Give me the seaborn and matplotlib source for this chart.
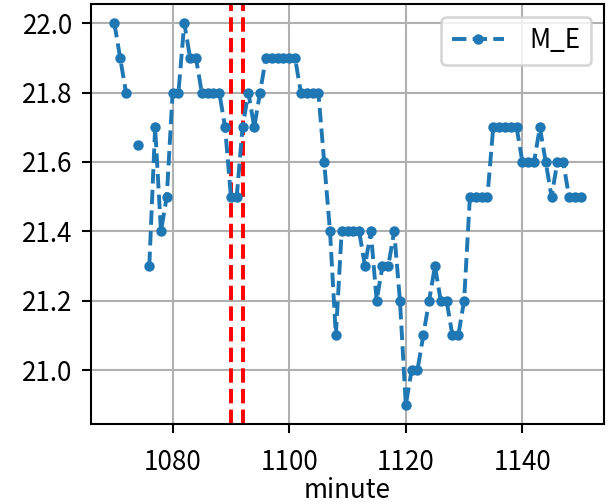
import numpy as np
import pandas as pd
import matplotlib
matplotlib.use("Agg")
import matplotlib.pyplot as plt
from matplotlib.lines import Line2D
import seaborn as sns

# ---- data ----
minutes = list(range(1070, 1151))
me_values = [
    22.0, 21.9, 21.8, np.nan, 21.65, np.nan, 21.3, 21.7, 21.4, 21.5,   # 1070-1079
    21.8, 21.8, 22.0, 21.9, 21.9, 21.8, 21.8, 21.8, 21.8, 21.7,        # 1080-1089
    21.5, 21.5, 21.7, 21.8, 21.7, 21.8, 21.9, 21.9, 21.9, 21.9,        # 1090-1099
    21.9, 21.9, 21.8, 21.8, 21.8, 21.8, 21.6, 21.4, 21.1, 21.4,        # 1100-1109
    21.4, 21.4, 21.4, 21.3, 21.4, 21.2, 21.3, 21.3, 21.4, 21.2,        # 1110-1119
    20.9, 21.0, 21.0, 21.1, 21.2, 21.3, 21.2, 21.2, 21.1, 21.1,        # 1120-1129
    21.2, 21.5, 21.5, 21.5, 21.5, 21.7, 21.7, 21.7, 21.7, 21.7,        # 1130-1139
    21.6, 21.6, 21.6, 21.7, 21.6, 21.5, 21.6, 21.6, 21.5, 21.5,        # 1140-1149
    21.5,                                                               # 1150
]
event_minutes = [1090, 1092]
series_label = "M_E"
x_label = "minute"
x_ticks = [1080, 1100, 1120, 1140]
y_ticks = [21.0, 21.2, 21.4, 21.6, 21.8, 22.0]

# ---- style ----
DPI = 187
plt.rcParams['font.family'] = ['Noto Sans CJK SC', 'DejaVu Sans']
plt.rcParams['axes.unicode_minus'] = False

df = pd.DataFrame({"minute": minutes, "M_E": me_values})
df["seg"] = df["M_E"].isna().cumsum()
df = df.dropna()

fig = plt.figure(figsize=(608 / DPI, 503 / DPI), dpi=DPI)
ax = fig.add_axes([91 / 608, 1 - 424 / 503, (604 - 91) / 608, (424 - 4) / 503])

for m in event_minutes:
    ax.axvline(m, color="red", linestyle="--", linewidth=1.5)

color = "#1f77b4"
sns.lineplot(data=df, x="minute", y="M_E", units="seg", estimator=None,
             color=color, marker=".", linestyle="--", linewidth=1.5,
             markeredgecolor=color, markeredgewidth=1.0, markersize=6,
             legend=False, ax=ax)

ax.grid(True, color="#b0b0b0", linewidth=0.8)
ax.set_axisbelow(True)
ax.set_xlabel(x_label, labelpad=0.5)
ax.set_ylabel("")
ax.set_xticks(x_ticks)
ax.set_yticks(y_ticks)
ax.set_yticklabels([f"{v:.1f}" for v in y_ticks])
ax.tick_params(axis="x", pad=6.0)

handle = Line2D([], [], color=color, marker=".", linestyle="--", linewidth=1.5,
                markersize=6)
ax.legend([handle], [series_label], loc="upper right", handletextpad=1.0)

fig.savefig("out.png", dpi=DPI)
